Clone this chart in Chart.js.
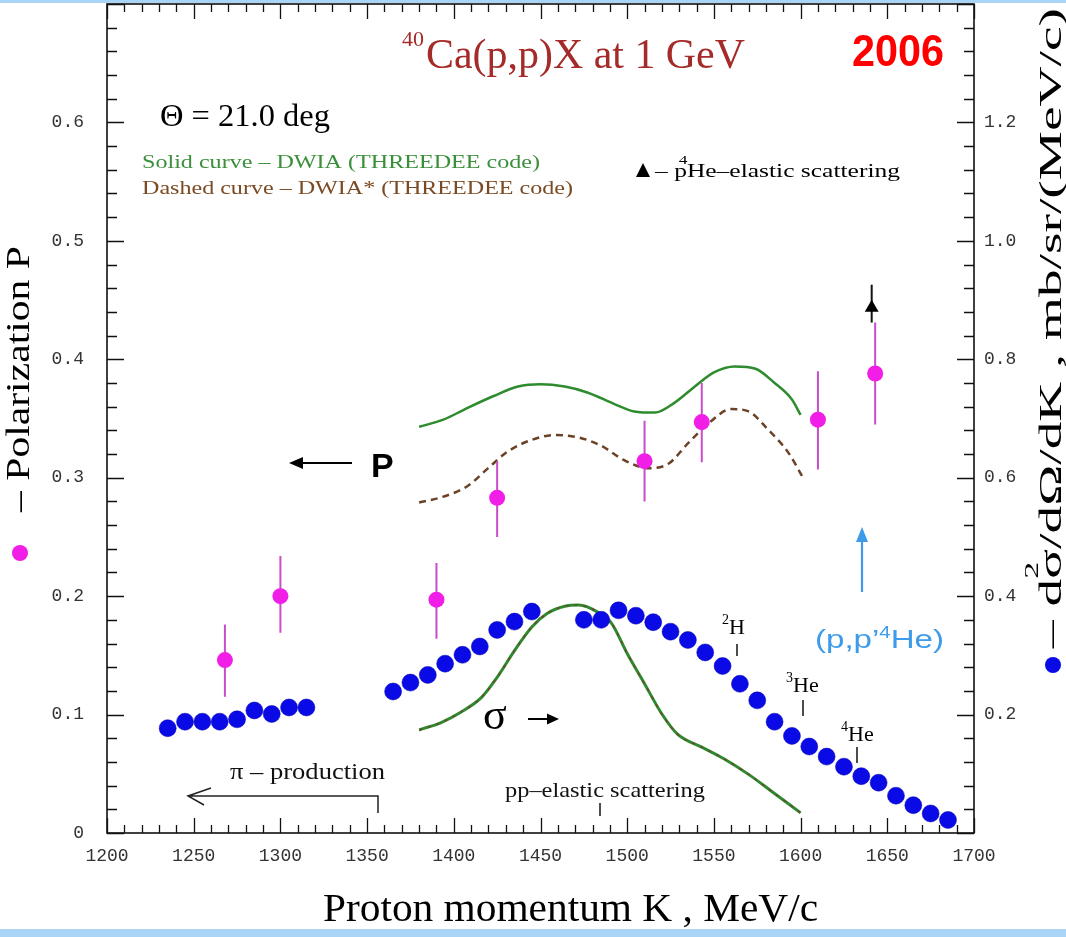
<!DOCTYPE html>
<html><head><meta charset="utf-8">
<script src="https://cdn.jsdelivr.net/npm/chart.js@4.4.1/dist/chart.umd.min.js"></script>
<style>html,body{margin:0;padding:0;background:#fff;}canvas{display:block}</style>
</head><body>
<canvas id="c" width="1066" height="937"></canvas>
<script>
// ---------- data ----------
const xTickValues = [1200,1250,1300,1350,1400,1450,1500,1550,1600,1650,1700];
const xTickLabels = ['1200','1250','1300','1350','1400','1450','1500','1550','1600','1650','1700'];
const leftTickValues = [0,0.1,0.2,0.3,0.4,0.5,0.6];
const leftTickLabels = ['0','0.1','0.2','0.3','0.4','0.5','0.6'];
const rightTickValues = [0.2,0.4,0.6,0.8,1.0,1.2];
const rightTickLabels = ['0.2','0.4','0.6','0.8','1.0','1.2'];

// cross-section d2sigma/dOmega/dK (right axis)
const sigmaK = [1235,1245,1255,1265,1275,1285,1295,1305,1315,
                1365,1375,1385,1395,1405,1415,1425,1435,1445,
                1475,1485,1495,1505,1515,1525,1535,1545,1555,1565,1575,1585,1595,1605,1615,1625,1635,1645,1655,1665,1675,1685];
const sigmaV = [0.177,0.188,0.188,0.188,0.192,0.207,0.201,0.212,0.212,
                0.239,0.254,0.267,0.286,0.301,0.315,0.343,0.357,0.374,
                0.360,0.360,0.376,0.367,0.356,0.340,0.326,0.305,0.282,0.252,0.224,0.188,0.164,0.146,0.129,0.112,0.096,0.085,0.063,0.047,0.033,0.022];

// polarization P (left axis) with error bars
const polK  = [1268,1300,1390,1425,1510,1543,1610,1643];
const polV  = [0.146,0.200,0.197,0.283,0.314,0.347,0.349,0.388];
const polLo = [0.115,0.169,0.164,0.250,0.280,0.313,0.307,0.345];
const polHi = [0.176,0.234,0.228,0.314,0.348,0.380,0.390,0.431];

// p-4He elastic scattering point
const heK  = [1641];
const heV  = [0.4435];
const heLo = [0.431];
const heHi = [0.463];

// DWIA (solid) polarization curve
const dwiaK = [1380,1394,1408,1423,1437,1450,1464,1477,1493,1504,1516,1527,1539,1550,1562,1574,1585,1595,1600];
const dwiaV = [0.343,0.349,0.359,0.369,0.377,0.379,0.377,0.372,0.362,0.356,0.355,0.363,0.377,0.389,0.394,0.392,0.380,0.366,0.353];
// DWIA* (dashed) polarization curve
const dwiaStarK = [1380,1394,1408,1419,1431,1445,1458,1472,1485,1498,1512,1524,1535,1547,1560,1570,1581,1593,1601];
const dwiaStarV = [0.279,0.284,0.293,0.307,0.322,0.332,0.336,0.334,0.327,0.315,0.308,0.312,0.329,0.346,0.358,0.356,0.341,0.321,0.301];
// calculated cross-section curve (right axis)
const sigCalcK = [1380,1393,1404,1416,1425,1435,1445,1454,1464,1472,1483,1491,1500,1510,1520,1529,1543,1556,1570,1583,1600];
const sigCalcV = [0.174,0.187,0.204,0.229,0.263,0.308,0.348,0.371,0.383,0.385,0.373,0.354,0.303,0.252,0.201,0.167,0.145,0.125,0.099,0.071,0.034];

const pts = (xs, ys) => xs.map((v, i) => ({x: v, y: ys[i]}));

// ---------- helpers ----------
const SERIF = "'Liberation Serif', 'Times New Roman', serif";
const SANS = "'Liberation Sans', Arial, sans-serif";
function rich(ctx, x, y, segs, width, angle) {
  ctx.save();
  let total = 0;
  segs.forEach(s => { ctx.font = s.font; s.w = ctx.measureText(s.t).width; if (s.adv !== false) total += (s.dx || 0) + s.w; });
  ctx.translate(x, y);
  if (angle) ctx.rotate(angle);
  if (width) ctx.scale(width / total, 1);
  ctx.textAlign = 'left'; ctx.textBaseline = 'alphabetic';
  let cx = 0;
  segs.forEach(s => {
    ctx.font = s.font; ctx.fillStyle = s.color || '#000';
    if (s.adv === false) { ctx.fillText(s.t, cx + (s.dx || 0), s.dy || 0); }
    else { cx += (s.dx || 0); ctx.fillText(s.t, cx, s.dy || 0); cx += s.w; }
  });
  ctx.restore();
}
function line(ctx, x1, y1, x2, y2, color, w) {
  ctx.save(); ctx.strokeStyle = color; ctx.lineWidth = w; ctx.beginPath();
  ctx.moveTo(x1, y1); ctx.lineTo(x2, y2); ctx.stroke(); ctx.restore();
}
function tri(ctx, pts, color) {
  ctx.save(); ctx.fillStyle = color; ctx.beginPath(); ctx.moveTo(pts[0][0], pts[0][1]);
  for (let i = 1; i < pts.length; i++) ctx.lineTo(pts[i][0], pts[i][1]);
  ctx.closePath(); ctx.fill(); ctx.restore();
}

// ---------- plugins ----------
const errorBars = {
  id: 'errorBars',
  beforeDatasetDraw(chart, args) {
    const {ctx} = chart; const x = chart.scales.x, y = chart.scales.y;
    let K, lo, hi, col;
    if (args.index === 0) { K = polK; lo = polLo; hi = polHi; col = '#c84ccb'; }
    else if (args.index === 1) { K = heK; lo = heLo; hi = heHi; col = '#111'; }
    else return;
    ctx.save(); ctx.strokeStyle = col; ctx.lineWidth = 2; ctx.beginPath();
    K.forEach((k, i) => {
      const px = x.getPixelForValue(k);
      ctx.moveTo(px, y.getPixelForValue(lo[i])); ctx.lineTo(px, y.getPixelForValue(hi[i]));
    });
    ctx.stroke(); ctx.restore();
  }
};

const frame = {
  id: 'frame',
  afterDatasetsDraw(chart) {
    const {ctx, chartArea: a} = chart; const x = chart.scales.x, y = chart.scales.y;
    ctx.save();
    ctx.strokeStyle = '#111'; ctx.lineWidth = 1.6;
    ctx.strokeRect(a.left, a.top, a.right - a.left, a.bottom - a.top);
    ctx.lineWidth = 1.3; ctx.beginPath();
    for (let i = 0; i <= 50; i++) {
      const v = 1200 + i * 10; const px = Math.round(x.getPixelForValue(v)) + 0.5; const L = (i % 5 === 0) ? 15 : 8;
      ctx.moveTo(px, a.bottom); ctx.lineTo(px, a.bottom - L);
      ctx.moveTo(px, a.top); ctx.lineTo(px, a.top + L);
    }
    for (let i = 0; i <= 35; i++) {
      const v = i * 0.02; const py = Math.round(y.getPixelForValue(v)) + 0.5; const L = (i % 5 === 0) ? 17 : 10;
      ctx.moveTo(a.left, py); ctx.lineTo(a.left + L, py);
      ctx.moveTo(a.right, py); ctx.lineTo(a.right - L, py);
    }
    ctx.stroke(); ctx.restore();
  },
  afterDraw(chart) {
    const {ctx} = chart;
    // light blue bands
    ctx.save(); ctx.fillStyle = '#a9d4f6';
    ctx.fillRect(0, 0, 1066, 3); ctx.fillRect(0, 929, 1066, 8); ctx.restore();

    // title
    rich(ctx, 402, 68, [
      {t: '40', font: `22px ${SERIF}`, color: '#a52a2a', dy: -22},
      {t: 'Ca(p,p)X at 1 GeV', font: `42px ${SERIF}`, color: '#a52a2a', dx: 2}
    ], 343);
    rich(ctx, 852, 66, [{t: '2006', font: `bold 44px ${SANS}`, color: '#ff0000'}], 92);
    rich(ctx, 160, 126, [{t: 'Θ = 21.0 deg', font: `32px ${SERIF}`, color: '#000'}], 170);

    // legend
    rich(ctx, 142, 168, [{t: 'Solid curve – DWIA (THREEDEE code)', font: `19px ${SERIF}`, color: '#3a8f3a'}], 398);
    rich(ctx, 142, 194, [{t: 'Dashed curve – DWIA* (THREEDEE code)', font: `19px ${SERIF}`, color: '#7a4a22'}], 431);
    tri(ctx, [[643, 163], [636, 177], [650, 177]], '#000');
    rich(ctx, 655, 177, [
      {t: '– p', font: `19px ${SERIF}`, color: '#000'},
      {t: '4', font: `13px ${SERIF}`, color: '#000', dy: -13, dx: -6, adv: false},
      {t: 'He–elastic scattering', font: `19px ${SERIF}`, color: '#000'}
    ], 245);

    // P arrow
    line(ctx, 352, 463, 300, 463, '#000', 2);
    tri(ctx, [[289, 463], [303, 457], [303, 469]], '#000');
    rich(ctx, 371, 477, [{t: 'P', font: `bold 34px ${SANS}`, color: '#000'}]);

    // sigma arrow
    rich(ctx, 483, 729, [{t: 'σ', font: `44px ${SERIF}`, color: '#000'}]);
    line(ctx, 528, 719, 548, 719, '#000', 2);
    tri(ctx, [[559, 719], [547, 713.5], [547, 724.5]], '#000');

    // pi production
    rich(ctx, 230, 779, [{t: 'π – production', font: `24px ${SERIF}`, color: '#111'}], 155);
    ctx.save(); ctx.strokeStyle = '#222'; ctx.lineWidth = 1.5; ctx.beginPath();
    ctx.moveTo(378, 813); ctx.lineTo(378, 796); ctx.lineTo(188, 796);
    ctx.moveTo(211, 788); ctx.lineTo(188, 796); ctx.lineTo(204, 805);
    ctx.stroke(); ctx.restore();

    // pp elastic
    rich(ctx, 505, 797, [{t: 'pp–elastic scattering', font: `22px ${SERIF}`, color: '#111'}], 200);
    line(ctx, 600, 803, 600, 816, '#111', 1.5);

    // nuclei marks
    rich(ctx, 722, 634, [{t: '2', font: `14px ${SERIF}`, dy: -10}, {t: 'H', font: `22px ${SERIF}`}]);
    line(ctx, 737, 644, 737, 656, '#111', 1.5);
    rich(ctx, 786, 692, [{t: '3', font: `14px ${SERIF}`, dy: -10}, {t: 'He', font: `22px ${SERIF}`}]);
    line(ctx, 803, 700, 803, 716, '#111', 1.5);
    rich(ctx, 841, 741, [{t: '4', font: `14px ${SERIF}`, dy: -10}, {t: 'He', font: `22px ${SERIF}`}]);
    line(ctx, 857, 747, 857, 763, '#111', 1.5);

    // (p,p'4He)
    rich(ctx, 815, 648, [
      {t: '(p,p’', font: `26px ${SANS}`, color: '#3d9be9'},
      {t: '4', font: `16px ${SANS}`, color: '#3d9be9', dy: -10},
      {t: 'He)', font: `26px ${SANS}`, color: '#3d9be9'}
    ], 129);
    line(ctx, 862, 592, 862, 540, '#3d9be9', 2.2);
    tri(ctx, [[862, 527], [856, 542], [868, 542]], '#3d9be9');

    // axis titles
    rich(ctx, 323, 921, [{t: 'Proton momentum K , MeV/c', font: `40px ${SERIF}`, color: '#000'}], 495);
    rich(ctx, 29, 512, [{t: '– Polarization P', font: `33px ${SERIF}`, color: '#000'}], 266, -Math.PI / 2);
    ctx.save(); ctx.fillStyle = '#f01ee6'; ctx.beginPath(); ctx.arc(20, 553, 8, 0, Math.PI * 2); ctx.fill(); ctx.restore();
    rich(ctx, 1061, 648, [
      {t: '– d', font: `31px ${SERIF}`, color: '#000'},
      {t: '2', font: `19px ${SERIF}`, color: '#000', dy: -23, adv: false},
      {t: 'σ/dΩ/dK , mb/sr/(MeV/c)', font: `31px ${SERIF}`, color: '#000'}
    ], 640, -Math.PI / 2);
    ctx.save(); ctx.fillStyle = '#0a0ae6'; ctx.beginPath(); ctx.arc(1053, 665, 8, 0, Math.PI * 2); ctx.fill(); ctx.restore();
  }
};

const tickFont = {family: "'Liberation Mono', 'DejaVu Sans Mono', monospace", size: 18};
const noPad = s => { s.paddingTop = 0; s.paddingBottom = 0; };

new Chart(document.getElementById('c'), {
  type: 'scatter',
  data: {
    datasets: [
      {label: 'P', data: pts(polK, polV), yAxisID: 'y', backgroundColor: '#f01ee6', borderColor: '#f01ee6', pointRadius: 8, pointBorderWidth: 0, order: 0},
      {label: 'p4He', data: pts(heK, heV), yAxisID: 'y', pointStyle: 'triangle', backgroundColor: '#000', borderColor: '#000', pointRadius: 8, pointBorderWidth: 0, order: 1},
      {label: 'sigma', data: pts(sigmaK, sigmaV), yAxisID: 'y2', backgroundColor: '#0a0ae6', borderColor: '#0000b0', pointRadius: 8.5, pointBorderWidth: 0.5, order: 2},
      {label: 'DWIA', data: pts(dwiaK, dwiaV), yAxisID: 'y', showLine: true, pointRadius: 0, borderColor: '#2e8b2e', borderWidth: 2.5, cubicInterpolationMode: 'monotone', order: 6},
      {label: 'DWIA*', data: pts(dwiaStarK, dwiaStarV), yAxisID: 'y', showLine: true, pointRadius: 0, borderColor: '#6b4226', borderWidth: 2.5, borderDash: [7, 5], cubicInterpolationMode: 'monotone', order: 7},
      {label: 'sigma calc dashed', data: pts(sigCalcK, sigCalcV), yAxisID: 'y2', showLine: true, pointRadius: 0, borderColor: '#6a4a2a', borderWidth: 1.6, borderDash: [3, 6], cubicInterpolationMode: 'monotone', order: 4},
      {label: 'sigma calc', data: pts(sigCalcK, sigCalcV), yAxisID: 'y2', showLine: true, pointRadius: 0, borderColor: '#2f8a2f', borderWidth: 3, cubicInterpolationMode: 'monotone', order: 5}
    ]
  },
  options: {
    responsive: false, animation: false, devicePixelRatio: 1,
    layout: {padding: {left: 0, right: 0, top: 4, bottom: 0}, autoPadding: false},
    plugins: {legend: {display: false}, tooltip: {enabled: false}},
    scales: {
      x: {type: 'linear', position: 'bottom', min: 1200, max: 1700,
          afterBuildTicks: s => { s.ticks = xTickValues.map(v => ({value: v})); },
          ticks: {font: tickFont, color: '#333', padding: 12, maxRotation: 0, autoSkip: false,
                  callback: (v, i) => xTickLabels[i]},
          grid: {display: false, drawTicks: false}, border: {display: false},
          afterFit: s => { s.height = 104; s.paddingLeft = 0; s.paddingRight = 0; }},
      y: {type: 'linear', position: 'left', min: 0, max: 0.7,
          afterBuildTicks: s => { s.ticks = leftTickValues.map(v => ({value: v})); },
          ticks: {font: tickFont, color: '#333', padding: 23, autoSkip: false, callback: (v, i) => leftTickLabels[i]},
          grid: {display: false, drawTicks: false}, border: {display: false},
          afterFit: s => { s.width = 107; noPad(s); }},
      y2: {type: 'linear', position: 'right', min: 0, max: 1.4,
          afterBuildTicks: s => { s.ticks = rightTickValues.map(v => ({value: v})); },
          ticks: {font: tickFont, color: '#333', padding: 10, autoSkip: false, callback: (v, i) => rightTickLabels[i]},
          grid: {display: false, drawTicks: false}, border: {display: false},
          afterFit: s => { s.width = 92; noPad(s); }}
    }
  },
  plugins: [errorBars, frame]
});
</script>
</body></html>
